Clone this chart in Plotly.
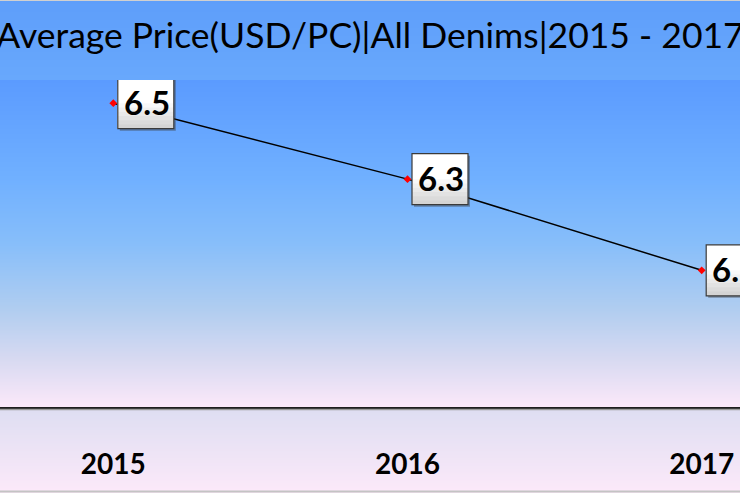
import base64
import struct
import zlib

import plotly.graph_objects as go

# ---------------- data ----------------
years = ["2015", "2016", "2017"]
avg_price = [6.5, 6.3, 6.06]
title_text = "Average Price(USD/PC)|All Denims|2015 - 2017"

# ---------------- geometry (pixels) ----------------
W, H = 740, 493
TOP, BOTTOM = 80, 407          # plot area top / bottom in figure pixels
PH = BOTTOM - TOP


def lerp_stops(stops, t):
    for (t0, c0), (t1, c1) in zip(stops, stops[1:]):
        if t <= t1:
            f = 0 if t1 == t0 else (t - t0) / (t1 - t0)
            return tuple(int(round(a + (b - a) * f)) for a, b in zip(c0, c1))
    return stops[-1][1]


def gradient_png(stops, h, w=2):
    rows = []
    for i in range(h):
        c = lerp_stops(stops, i / (h - 1))
        rows.append(b"\x00" + bytes(c) * w)
    raw = b"".join(rows)

    def chunk(t, d):
        return struct.pack(">I", len(d)) + t + d + struct.pack(">I", zlib.crc32(t + d) & 0xFFFFFFFF)

    png = (b"\x89PNG\r\n\x1a\n"
           + chunk(b"IHDR", struct.pack(">IIBBBBB", w, h, 8, 2, 0, 0, 0))
           + chunk(b"IDAT", zlib.compress(raw))
           + chunk(b"IEND", b""))
    return "data:image/png;base64," + base64.b64encode(png).decode()


stops = [
    (0.0, (91, 155, 255)),
    (0.3, (112, 176, 255)),
    (0.5, (135, 190, 250)),
    (0.7, (176, 205, 240)),
    (0.85, (214, 217, 241)),
    (1.0, (251, 232, 249)),
]
outer_stops = [
    (0.0, (94, 158, 250)),
    (0.16, (104, 168, 252)),
    (0.5, (135, 190, 250)),
    (0.83, (222, 222, 242)),
    (1.0, (252, 233, 249)),
]

xpos = list(range(len(years)))

fig = go.Figure()
fig.add_trace(go.Scatter(
    x=xpos, y=avg_price, mode="lines+markers",
    line=dict(color="#000000", width=1.5),
    marker=dict(symbol="diamond", size=6, color="#ff0000"),
    hoverinfo="skip", showlegend=False,
))


def py(pix):  # figure pixel y -> paper y
    return (BOTTOM - pix) / PH


images = [
    dict(source=gradient_png(outer_stops, H), xref="paper", yref="paper",
         x=0, y=py(0), sizex=1, sizey=H / PH, sizing="stretch", layer="below"),
    dict(source=gradient_png(stops, PH), xref="paper", yref="paper",
         x=0, y=1, sizex=1, sizey=1, sizing="stretch", layer="below"),
]

shapes = []
# axis shadow
shapes.append(dict(type="line", xref="paper", yref="paper", x0=0, x1=1,
                   y0=py(409.5), y1=py(409.5), line=dict(color="#9a9a9a", width=1.5)))
# outer borders
shapes.append(dict(type="line", xref="paper", yref="paper", x0=0, x1=1,
                   y0=py(0.5), y1=py(0.5), line=dict(color="#d0d0d0", width=1)))
shapes.append(dict(type="line", xref="paper", yref="paper", x0=0, x1=1,
                   y0=py(491.5), y1=py(491.5), line=dict(color="#c4c4c4", width=2)))

# label boxes
BX0, BX1, BH = 4.5, 60.5, 25.5
for xv, yv in zip(xpos, avg_price):
    base = dict(type="rect", xref="x", yref="y", xsizemode="pixel", ysizemode="pixel",
                xanchor=xv, yanchor=yv, layer="above")
    # shadow
    shapes.append(dict(base, x0=BX0 + 2, x1=BX1 + 2, y0=-BH - 2, y1=BH - 2,
                       fillcolor="rgba(60,60,60,0.45)", line=dict(width=0)))
    n = 12
    for i in range(n):
        t = i / (n - 1)
        top = BH - 2 * BH * i / n
        if t < 0.45:
            g = 255
        else:
            g = int(round(255 - (255 - 212) * (t - 0.45) / 0.55))
        # each strip reaches the bottom so later strips overwrite: no seams
        shapes.append(dict(base, x0=BX0, x1=BX1, y0=-BH, y1=top,
                           fillcolor=f"rgb({g},{g},{g})", line=dict(width=0)))
    shapes.append(dict(base, x0=BX0, x1=BX1, y0=-BH, y1=BH,
                       fillcolor="rgba(0,0,0,0)", line=dict(color="#3a3a3a", width=1.2)))

annotations = []
for xv, yv in zip(xpos, avg_price):
    annotations.append(dict(
        x=xv, y=yv, xref="x", yref="y", text=f"{yv:.1f}", showarrow=False,
        xanchor="center", yanchor="middle", xshift=(BX0 + BX1) / 2 + 1, yshift=1,
        font=dict(family="Lato", size=33, color="#000000", weight="bold"),
    ))

xmin = -113.3 / 294.2
xmax = (W - 113.3) / 294.2

fig.update_layout(
    width=W, height=H,
    margin=dict(l=0, r=0, t=TOP, b=H - BOTTOM, pad=0),
    paper_bgcolor="#ffffff",
    plot_bgcolor="rgba(0,0,0,0)",
    title=dict(text=title_text, x=0.5, xanchor="center", xref="paper",
               y=1 - 36 / H, yanchor="middle", yref="container",
               font=dict(family="Lato", size=35.5, color="#000000")),
    xaxis=dict(range=[xmin, xmax], tickvals=xpos, ticktext=years,
               showgrid=False, zeroline=False, showline=True,
               linecolor="#1e1e1e", linewidth=2.5,
               ticks="outside", ticklen=31, tickcolor="rgba(0,0,0,0)",
               tickfont=dict(family="Lato", size=28, color="#000000", weight="bold"),
               fixedrange=True),
    yaxis=dict(range=[5.7, 6.561], visible=False, showgrid=False, zeroline=False,
               fixedrange=True),
    images=images,
    shapes=shapes,
    annotations=annotations,
    showlegend=False,
)

fig.write_html("out.html", config={"displayModeBar": False},
               post_script="document.body.style.margin='0';document.body.style.overflow='hidden';")
